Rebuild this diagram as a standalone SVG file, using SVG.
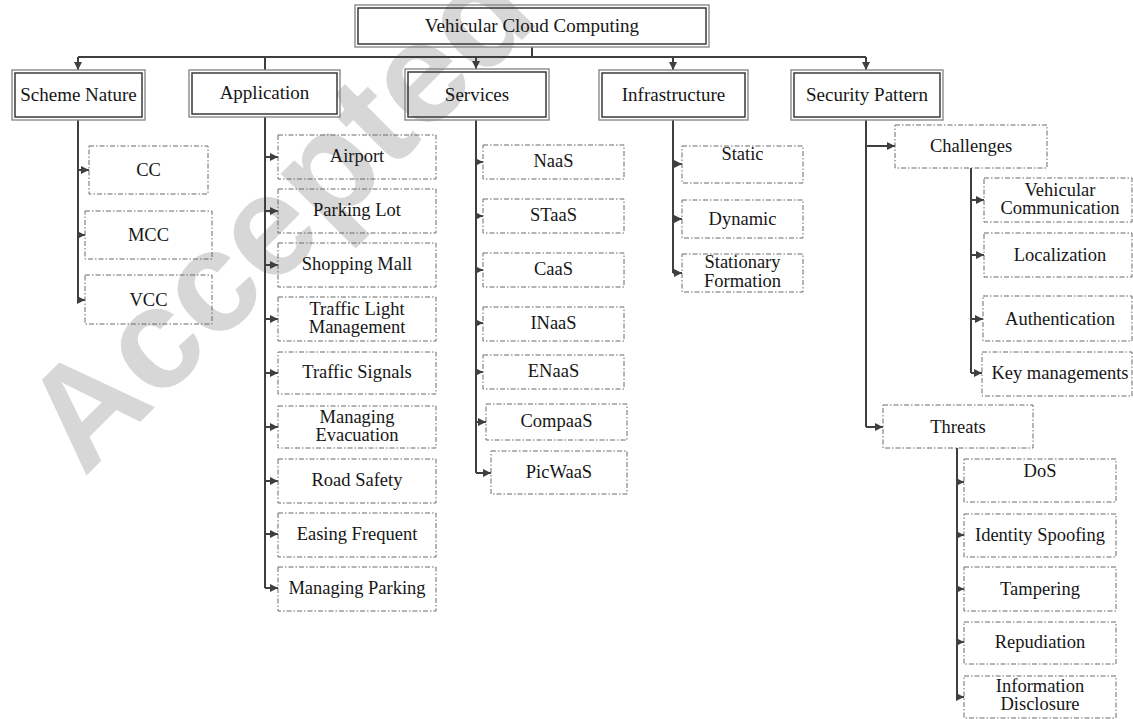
<svg xmlns="http://www.w3.org/2000/svg" width="1133" height="719" viewBox="0 0 1133 719">
  <defs>
    <marker id="ah" viewBox="0 0 10 10" refX="10" refY="5" markerWidth="9" markerHeight="8" markerUnits="userSpaceOnUse" orient="auto">
      <path d="M0,0 L10,5 L0,10 z" fill="#3f3f3f"/>
    </marker>
    <style>
      .wm { font-family: "Liberation Sans", Arial, sans-serif; font-size: 144px; font-weight: bold; fill: #d7d7d7; }
      .conn path { fill: none; stroke: #3f3f3f; stroke-width: 2; }
      .conn .stub { marker-end: url(#ah); }
      .outer { fill: none; stroke: #8a8a8a; stroke-width: 1.4; }
      .inner { fill: none; stroke: #3a3a3a; stroke-width: 1.5; }
      .leaf rect { fill: none; stroke: #6a6a6a; stroke-width: 1; stroke-dasharray: 5 2 1.5 2; }
      text { font-family: "Liberation Serif", "Times New Roman", serif; fill: #161616; text-anchor: middle; }
      .l1 text, #root text { font-size: 19px; }
      .leaf text { font-size: 18.5px; }
    </style>
  </defs>

  <rect width="1133" height="719" fill="#ffffff"/>

  <!-- background watermark -->
  <text class="wm" transform="translate(84,478) rotate(-45)" style="text-anchor:start">Accepted manuscript</text>

  <!-- connectors -->
  <g id="connectors" class="conn">
    <path d="M532,47 V57 M78,57 H866"/>
    <path class="stub" d="M78,57 V70"/>
    <path d="M265,57 V70"/>
    <path class="stub" d="M476,57 V69"/>
    <path class="stub" d="M673,57 V70"/>
    <path class="stub" d="M866,57 V70"/>

    <!-- Scheme Nature -->
    <path d="M78,120 V300"/>
    <path class="stub" d="M78,170 H89"/>
    <path class="stub" d="M78,235 H85"/>
    <path class="stub" d="M78,300 H85"/>

    <!-- Application -->
    <path d="M265,117 V588"/>
    <path class="stub" d="M265,157 H278"/>
    <path class="stub" d="M265,211 H278"/>
    <path class="stub" d="M265,265 H278"/>
    <path class="stub" d="M265,319 H278"/>
    <path class="stub" d="M265,373 H278"/>
    <path class="stub" d="M265,427 H278"/>
    <path class="stub" d="M265,481 H278"/>
    <path class="stub" d="M265,534 H278"/>
    <path class="stub" d="M265,588 H278"/>

    <!-- Services -->
    <path d="M476,120 V473"/>
    <path class="stub" d="M476,162 H483"/>
    <path class="stub" d="M476,216 H483"/>
    <path class="stub" d="M476,270 H483"/>
    <path class="stub" d="M476,323 H483"/>
    <path class="stub" d="M476,372 H483"/>
    <path class="stub" d="M476,422 H486"/>
    <path class="stub" d="M476,473 H491"/>

    <!-- Infrastructure -->
    <path d="M673,120 V273"/>
    <path class="stub" d="M673,164 H682"/>
    <path class="stub" d="M673,219 H682"/>
    <path class="stub" d="M673,273 H682"/>

    <!-- Security Pattern -->
    <path d="M866,120 V427"/>
    <path class="stub" d="M866,146 H895"/>
    <path class="stub" d="M866,427 H883"/>

    <!-- Challenges -->
    <path d="M971,168 V373"/>
    <path class="stub" d="M971,200 H984"/>
    <path class="stub" d="M971,255 H984"/>
    <path class="stub" d="M971,319 H983"/>
    <path class="stub" d="M971,373 H982"/>

    <!-- Threats -->
    <path d="M957,448 V697"/>
    <path class="stub" d="M957,482 H964"/>
    <path class="stub" d="M957,535 H964"/>
    <path class="stub" d="M957,589 H964"/>
    <path class="stub" d="M957,642 H964"/>
    <path class="stub" d="M957,697 H964"/>
  </g>

  <!-- root -->
  <g id="root">
    <rect class="outer" x="355" y="5" width="354" height="42"/>
    <rect class="inner" x="358" y="8" width="348" height="36"/>
    <text x="532" y="32">Vehicular Cloud Computing</text>
  </g>

  <!-- first level -->
  <g id="scheme-nature" class="l1">
    <rect class="outer" x="12" y="70" width="133" height="50"/>
    <rect class="inner" x="15" y="73" width="127" height="44"/>
    <text x="78.5" y="101">Scheme Nature</text>
  </g>
  <g id="application" class="l1">
    <rect class="outer" x="189" y="70" width="151" height="47"/>
    <rect class="inner" x="192" y="73" width="145" height="41"/>
    <text x="264.5" y="99">Application</text>
  </g>
  <g id="services" class="l1">
    <rect class="outer" x="405" y="69" width="144" height="51"/>
    <rect class="inner" x="408" y="72" width="138" height="45"/>
    <text x="477" y="101">Services</text>
  </g>
  <g id="infrastructure" class="l1">
    <rect class="outer" x="599" y="70" width="149" height="50"/>
    <rect class="inner" x="602" y="73" width="143" height="44"/>
    <text x="673.5" y="101">Infrastructure</text>
  </g>
  <g id="security-pattern" class="l1">
    <rect class="outer" x="791" y="70" width="152" height="50"/>
    <rect class="inner" x="794" y="73" width="146" height="44"/>
    <text x="867" y="101">Security Pattern</text>
  </g>

  <!-- Scheme Nature leaves -->
  <g id="cc" class="leaf"><rect x="89" y="146" width="119" height="48"/><text x="148.5" y="176">CC</text></g>
  <g id="mcc" class="leaf"><rect x="85" y="211" width="127" height="48"/><text x="148.5" y="241">MCC</text></g>
  <g id="vcc" class="leaf"><rect x="85" y="275" width="127" height="49"/><text x="148.5" y="306">VCC</text></g>

  <!-- Application leaves -->
  <g id="airport" class="leaf"><rect x="278" y="135" width="158" height="44"/><text x="357" y="162">Airport</text></g>
  <g id="parking-lot" class="leaf"><rect x="278" y="189" width="158" height="44"/><text x="357" y="216">Parking Lot</text></g>
  <g id="shopping-mall" class="leaf"><rect x="278" y="243" width="158" height="44"/><text x="357" y="270">Shopping Mall</text></g>
  <g id="traffic-light" class="leaf"><rect x="278" y="297" width="158" height="44"/><text x="357" y="315">Traffic Light</text><text x="357" y="333">Management</text></g>
  <g id="traffic-signals" class="leaf"><rect x="278" y="352" width="158" height="42"/><text x="357" y="378">Traffic Signals</text></g>
  <g id="managing-evacuation" class="leaf"><rect x="278" y="406" width="158" height="42"/><text x="357" y="423">Managing</text><text x="357" y="441">Evacuation</text></g>
  <g id="road-safety" class="leaf"><rect x="278" y="459" width="158" height="44"/><text x="357" y="486">Road Safety</text></g>
  <g id="easing-frequent" class="leaf"><rect x="278" y="513" width="158" height="44"/><text x="357" y="540">Easing Frequent</text></g>
  <g id="managing-parking" class="leaf"><rect x="278" y="567" width="158" height="44"/><text x="357" y="594">Managing Parking</text></g>

  <!-- Services leaves -->
  <g id="naas" class="leaf"><rect x="483" y="145" width="141" height="34"/><text x="553.5" y="167">NaaS</text></g>
  <g id="staas" class="leaf"><rect x="483" y="199" width="141" height="34"/><text x="553.5" y="221">STaaS</text></g>
  <g id="caas" class="leaf"><rect x="483" y="253" width="141" height="34"/><text x="553.5" y="275">CaaS</text></g>
  <g id="inaas" class="leaf"><rect x="483" y="307" width="141" height="34"/><text x="553.5" y="329">INaaS</text></g>
  <g id="enaas" class="leaf"><rect x="483" y="355" width="141" height="34"/><text x="553.5" y="377">ENaaS</text></g>
  <g id="compaas" class="leaf"><rect x="486" y="404" width="141" height="36"/><text x="556.5" y="427">CompaaS</text></g>
  <g id="picwaas" class="leaf"><rect x="491" y="451" width="136" height="43"/><text x="559" y="478">PicWaaS</text></g>

  <!-- Infrastructure leaves -->
  <g id="static" class="leaf"><rect x="682" y="146" width="121" height="37"/><text x="742.5" y="160">Static</text></g>
  <g id="dynamic" class="leaf"><rect x="682" y="200" width="121" height="38"/><text x="742.5" y="225">Dynamic</text></g>
  <g id="stationary-formation" class="leaf"><rect x="682" y="254" width="121" height="38"/><text x="742.5" y="268">Stationary</text><text x="742.5" y="287">Formation</text></g>

  <!-- Security Pattern branches -->
  <g id="challenges" class="leaf"><rect x="895" y="125" width="152" height="43"/><text x="971" y="152">Challenges</text></g>
  <g id="vehicular-communication" class="leaf"><rect x="984" y="178" width="148" height="44"/><text x="1060" y="196">Vehicular</text><text x="1060" y="214">Communication</text></g>
  <g id="localization" class="leaf"><rect x="984" y="233" width="148" height="44"/><text x="1060" y="261">Localization</text></g>
  <g id="authentication" class="leaf"><rect x="983" y="296" width="149" height="45"/><text x="1060" y="325">Authentication</text></g>
  <g id="key-managements" class="leaf"><rect x="982" y="352" width="150" height="44"/><text x="1060" y="379">Key managements</text></g>

  <g id="threats" class="leaf"><rect x="883" y="405" width="150" height="43"/><text x="958" y="433">Threats</text></g>
  <g id="dos" class="leaf"><rect x="964" y="459" width="152" height="43"/><text x="1040" y="477">DoS</text></g>
  <g id="identity-spoofing" class="leaf"><rect x="964" y="514" width="152" height="43"/><text x="1040" y="541">Identity Spoofing</text></g>
  <g id="tampering" class="leaf"><rect x="964" y="567" width="152" height="44"/><text x="1040" y="595">Tampering</text></g>
  <g id="repudiation" class="leaf"><rect x="964" y="622" width="152" height="42"/><text x="1040" y="648">Repudiation</text></g>
  <g id="information-disclosure" class="leaf"><rect x="964" y="676" width="152" height="42"/><text x="1040" y="692">Information</text><text x="1040" y="710">Disclosure</text></g>
</svg>
